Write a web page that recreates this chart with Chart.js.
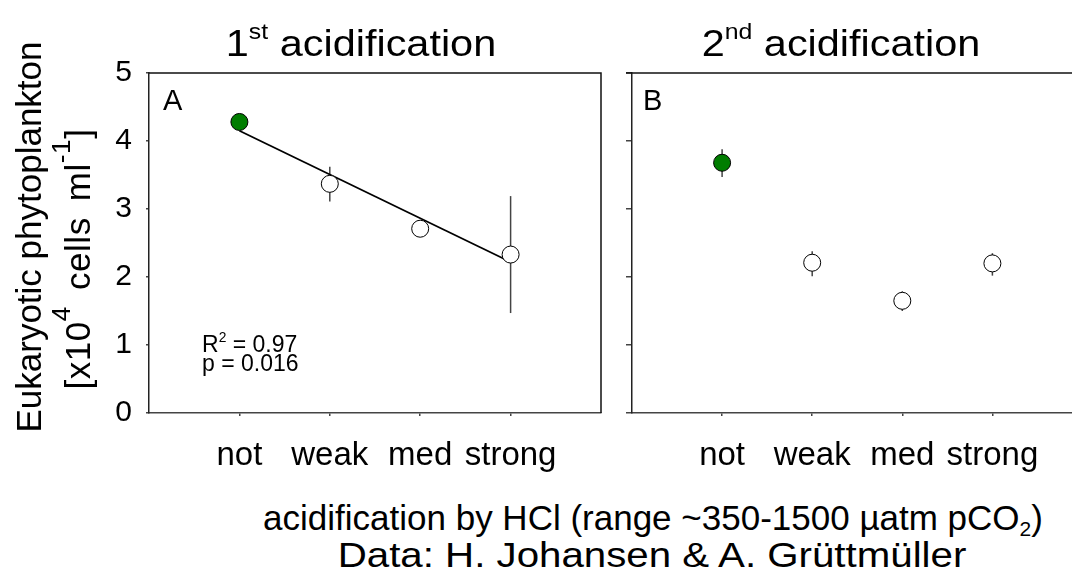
<!DOCTYPE html>
<html>
<head>
<meta charset="utf-8">
<script src="https://cdn.jsdelivr.net/npm/chart.js@4"></script>
<style>
    html, body { margin: 0; padding: 0; background: #fff; }
    body { width: 1072px; height: 574px; overflow: hidden; position: relative;
           font-family: 'Liberation Sans', Arial, sans-serif; color: #000; }
    .box { position: absolute; }
    .txt { position: absolute; line-height: 1; white-space: nowrap; transform-origin: 0 0; }
    sup { font-size: 60%; vertical-align: 0.75em; line-height: 0; }
    sub { font-size: 60%; vertical-align: -0.3em; line-height: 0; }
    .ytitle { position: absolute; font-size: 35px; line-height: 49px; white-space: nowrap;
              transform: translate(-50%, -50%) rotate(-90deg); }
    #ytitle2 { letter-spacing: 0.5px; word-spacing: 6px; }
    #ytitle2 sup { font-size: 75%; }
</style>
</head>
<body>

<div class="box" id="boxA" style="left:0; top:0; width:620px; height:480px;"><canvas id="chartA"></canvas></div>
<div class="box" id="boxB" style="left:592px; top:0; width:500px; height:480px;"><canvas id="chartB"></canvas></div>

<div class="txt" style="left:361px; top:25px; font-size:37px; transform: scaleX(1.12) translateX(-50%);">1<sup>st</sup> acidification</div>
<div class="txt" style="left:841px; top:25px; font-size:37px; transform: scaleX(1.12) translateX(-50%);">2<sup>nd</sup> acidification</div>

<div class="ytitle" id="ytitle1" style="left:28px; top:237px;">Eukaryotic phytoplankton</div>
<div class="ytitle" id="ytitle2" style="left:77px; top:259px;">[x10<sup>4</sup> cells ml<sup>-1</sup>]</div>

<div class="txt" style="left:163px; top:86px; font-size:29px;">A</div>
<div class="txt" style="left:643px; top:86px; font-size:29px;">B</div>
<div class="txt" style="left:202px; top:333px; font-size:23px;">R<sup>2</sup> = 0.97</div>
<div class="txt" style="left:202px; top:352px; font-size:23px;">p = 0.016</div>

<div class="txt" style="left:653px; top:500px; font-size:35px; transform: translateX(-50%);">acidification by HCl (range ~350-1500 µatm pCO<sub>2</sub>)</div>
<div class="txt" style="left:652px; top:537px; font-size:35px; transform: scaleX(1.15) translateX(-50%);">Data: H. Johansen &amp; A. Grüttmüller</div>

<script>
// categories on the x axis (placed at 1..4)
var categories = ['not', 'weak', 'med', 'strong'];
var yTicks = [0, 1, 2, 3, 4, 5];

// 1st acidification: means and error bar ends
var meanA = [4.28, 3.37, 2.71, 2.33];
var lowA  = [4.22, 3.11, 2.66, 1.47];
var highA = [4.34, 3.62, 2.76, 3.19];
// regression line values at 'not' and 'strong'
var fitA  = [4.15, 2.22];

// 2nd acidification
var meanB = [3.68, 2.21, 1.65, 2.20];
var lowB  = [3.47, 2.01, 1.50, 2.02];
var highB = [3.88, 2.38, 1.79, 2.35];

var fillColors = ['#007d00', '#ffffff', '#ffffff', '#ffffff'];

var fontFamily = "'Liberation Sans', Arial, sans-serif";

// vertical error bars, drawn under the points
var errorBars = {
    id: 'errorBars',
    beforeDatasetsDraw: function(chart, args, opts) {
        var ctx = chart.ctx, x = chart.scales.x, y = chart.scales.y;
        ctx.save();
        ctx.strokeStyle = '#444';
        ctx.lineWidth = 1.5;
        opts.low.forEach(function(lo, i) {
            var px = x.getPixelForValue(i + 1);
            ctx.beginPath();
            ctx.moveTo(px, y.getPixelForValue(lo));
            ctx.lineTo(px, y.getPixelForValue(opts.high[i]));
            ctx.stroke();
        });
        ctx.restore();
    }
};

// top / right frame lines
var frame = {
    id: 'frame',
    afterDraw: function(chart, args, opts) {
        var ctx = chart.ctx, a = chart.chartArea;
        ctx.save();
        ctx.strokeStyle = '#111';
        ctx.lineWidth = 1.5;
        ctx.beginPath();
        ctx.moveTo(a.left - opts.extendLeft, a.top);
        ctx.lineTo(a.right, a.top);
        if (opts.right) ctx.lineTo(a.right, a.bottom);
        ctx.stroke();
        ctx.restore();
    }
};

function points(values) {
    return values.map(function(v, i) { return { x: i + 1, y: v }; });
}

function makeOptions(yWidth, showYLabels, yTickLen, padRight, lo, hi, frameOpts) {
    return {
        responsive: true,
        maintainAspectRatio: false,
        animation: false,
        layout: { padding: { top: 73, right: padRight, left: 0, bottom: 0 } },
        plugins: {
            legend: { display: false },
            tooltip: { enabled: false },
            errorBars: { low: lo, high: hi },
            frame: frameOpts
        },
        scales: {
            x: {
                type: 'linear',
                min: 0,
                max: 5,
                afterBuildTicks: function(scale) {
                    scale.ticks = categories.map(function(c, i) { return { value: i + 1 }; });
                },
                afterFit: function(scale) { scale.height = 67; },
                ticks: {
                    autoSkip: false,
                    maxRotation: 0,
                    padding: 20,
                    color: '#000',
                    font: { family: fontFamily, size: 33 },
                    callback: function(v) { return categories[v - 1]; }
                },
                grid: { drawOnChartArea: false, tickLength: 3, color: '#444', lineWidth: 1.5 },
                border: { color: '#444', width: 1.5 }
            },
            y: {
                min: 0,
                max: 5,
                afterBuildTicks: function(scale) {
                    scale.ticks = yTicks.map(function(v) { return { value: v }; });
                },
                afterFit: function(scale) { scale.width = yWidth; },
                ticks: {
                    display: showYLabels,
                    padding: 14,
                    color: '#000',
                    font: { family: fontFamily, size: 30 }
                },
                grid: { drawOnChartArea: false, tickLength: yTickLen, color: '#444', lineWidth: 1.5 },
                border: { color: '#222', width: 1.5 }
            }
        }
    };
}

function makeDatasets(means, fit) {
    var ds = [{
        type: 'scatter',
        data: points(means),
        pointRadius: 8.5,
        pointBackgroundColor: fillColors,
        pointBorderColor: '#000',
        pointBorderWidth: 1,
        order: 0
    }];
    if (fit) {
        ds.push({
            type: 'line',
            data: [{ x: 1, y: fit[0] }, { x: 4, y: fit[1] }],
            borderColor: '#000',
            borderWidth: 1.8,
            pointRadius: 0,
            fill: false,
            order: 1
        });
    }
    return ds;
}

new Chart(document.getElementById('chartA'), {
    type: 'scatter',
    data: { datasets: makeDatasets(meanA, fitA) },
    options: makeOptions(149, true, 3, 19, lowA, highA, { right: true, extendLeft: 0 }),
    plugins: [errorBars, frame]
});

new Chart(document.getElementById('chartB'), {
    type: 'scatter',
    data: { datasets: makeDatasets(meanB, null) },
    options: makeOptions(40, false, 6, 7, lowB, highB, { right: false, extendLeft: 6 }),
    plugins: [errorBars, frame]
});
</script>
</body>
</html>
